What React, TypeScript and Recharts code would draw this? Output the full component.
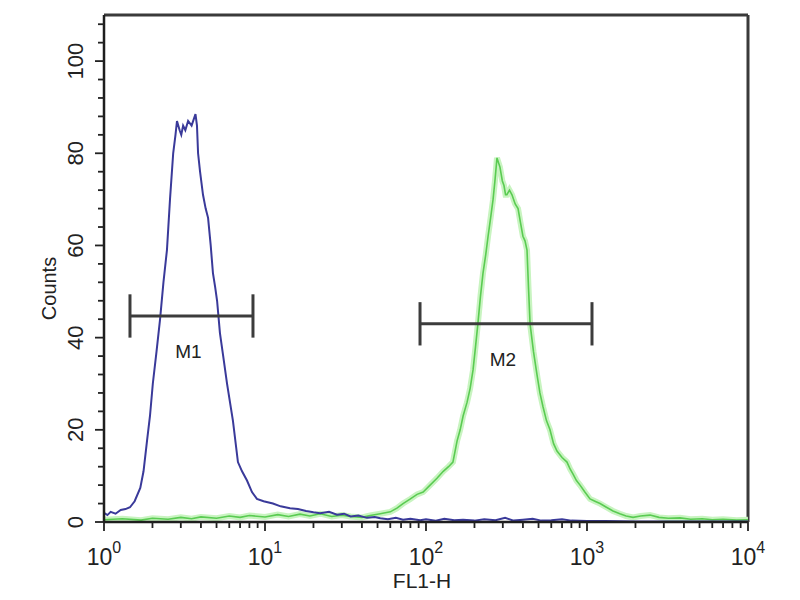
import {
  LineChart,
  Line,
  XAxis,
  YAxis,
  ReferenceLine,
} from "recharts";

// FL1-H channel values and counts
const blueFL = [
  1.0, 1.05, 1.1, 1.18, 1.27, 1.36, 1.45, 1.55, 1.68, 1.76, 1.85, 1.93, 2.01,
  2.12, 2.23, 2.34, 2.46, 2.57, 2.69, 2.78, 2.84, 2.95, 3.02, 3.1, 3.2, 3.33,
  3.5, 3.7, 3.78, 3.84, 3.95, 4.12, 4.28, 4.43, 4.6, 4.75, 4.9, 5.04, 5.25,
  5.5, 5.81, 6.32, 6.79, 7.2, 7.73, 8.3, 8.91, 9.8, 11.2, 12.5, 14.3, 16, 18,
  20, 22, 25, 28, 31, 34, 38, 43, 48, 52, 58, 65, 72, 80, 92, 100, 115, 130,
  150, 170, 200, 230, 270, 310, 350, 400, 460, 520, 600, 700, 800, 1000, 1300,
  2000, 3000, 5000, 10000,
];
const blueCounts = [
  2.0, 1.5, 2.2, 1.8, 2.6, 2.8, 3.2, 4.5, 7.4, 11, 17.6, 23, 30, 37, 44, 52, 59,
  70, 80, 84, 87, 85, 84, 86, 85, 87, 86, 88.5, 86, 80, 76, 71, 68, 66, 60, 54,
  51, 48, 41, 36, 30, 22, 13, 11, 9, 6.5, 5, 4.5, 4, 3.4, 3, 2.8, 2.4, 2.1, 1.9,
  2.2, 1.6, 1.8, 1.2, 1.4, 0.9, 1.1, 0.8, 0.6, 0.9, 0.5, 0.7, 0.4, 0.6, 0.3, 0.7,
  0.4, 0.5, 0.3, 0.6, 0.4, 0.9, 0.3, 0.5, 0.7, 0.3, 0.4, 0.6, 0.3, 0.2, 0.2, 0.1,
  0.1, 0.1, 0.1,
];

const greenFL = [
  1.0, 1.3, 1.7, 2.0, 2.5, 3.0, 3.5, 4.0, 5.0, 6.0, 7.0, 8.0, 10, 12, 14, 16.5,
  19, 22, 26, 30, 34, 40, 45, 52, 60, 66, 72, 80, 88, 96, 106, 117, 128, 138,
  147, 156, 163, 170, 180, 188, 196, 203, 210, 218, 226, 235, 243, 252, 261,
  268, 276, 288, 298, 305, 312, 318, 330, 342, 358, 373, 386, 400, 412, 424,
  433, 443, 465, 489, 510, 533, 560, 589, 620, 651, 700, 751, 785, 819, 860,
  905, 970, 1044, 1120, 1205, 1320, 1450, 1600, 1750, 1932, 2150, 2463, 2800,
  3200, 3782, 4400, 5200, 6000, 7000, 8500, 10000,
];
const greenCounts = [
  0.5, 0.7, 0.4, 0.8, 0.6, 1.0, 0.7, 1.1, 0.8, 1.3, 1.0, 1.4, 1.1, 1.6, 1.2, 1.7,
  1.3, 1.8, 1.2, 1.5, 1.2, 1.0, 1.4, 1.8, 2.2, 3.0, 4, 5, 6, 6.5, 8, 9.5, 11, 12,
  13, 17.6, 20, 23, 26, 29, 33, 38, 43, 49, 54, 58, 62, 66, 70, 74, 79, 77, 74,
  73, 71, 71, 72, 71, 69, 68, 65, 62, 61, 59, 51, 43, 37, 32, 28, 25, 22, 20, 17,
  15.4, 14, 13, 11.5, 10.4, 9, 8, 6.5, 5, 4.5, 4, 3.2, 2.4, 1.8, 1.3, 1.0, 1.3,
  1.5, 1.0, 0.8, 0.9, 0.6, 0.7, 0.5, 0.6, 0.4, 0.5,
];

// gate markers
const gateNames = ["M1", "M2"];
const gateLo = [1.45, 91.8];
const gateHi = [8.42, 1074];
const gateY = [44.7, 43];
const capHalf = 4.7;

const xTicks = [
  1, 2, 3, 4, 5, 6, 7, 8, 9, 10, 20, 30, 40, 50, 60, 70, 80, 90, 100, 200, 300,
  400, 500, 600, 700, 800, 900, 1000, 2000, 3000, 4000, 5000, 6000, 7000, 8000,
  9000, 10000,
];
const yTicks = [
  0, 4, 8, 12, 16, 20, 24, 28, 32, 36, 40, 44, 48, 52, 56, 60, 64, 68, 72, 76,
  80, 84, 88, 92, 96, 100, 104, 108,
];

const blueData = blueFL.map((x, i) => ({ x, y: blueCounts[i] }));
const greenData = greenFL.map((x, i) => ({ x, y: greenCounts[i] }));

const FONT = "'Liberation Sans', Arial, sans-serif";
const INK = "#222";

function XTick(props: any) {
  const { x, y, payload } = props;
  const e = Math.log10(payload.value);
  const major = Math.abs(e - Math.round(e)) < 1e-6;
  return (
    <g>
      <line x1={x} x2={x} y1={y} y2={y + (major ? 9 : 6)} stroke={INK} strokeWidth={1.8} />
      {major && (
        <text x={x} y={y + 43} textAnchor="middle" fontFamily={FONT} fontSize={23} fill={INK}>
          <tspan>10</tspan>
          <tspan dy={-12} fontSize={16}>
            {Math.round(e)}
          </tspan>
        </text>
      )}
    </g>
  );
}

function YTick(props: any) {
  const { x, y, payload } = props;
  const major = payload.value % 20 === 0;
  const tx = x - 21;
  return (
    <g>
      <line x1={x - (major ? 9 : 6)} x2={x} y1={y} y2={y} stroke={INK} strokeWidth={1.8} />
      {major && (
        <text
          x={tx}
          y={y}
          textAnchor="middle"
          transform={`rotate(-90, ${tx}, ${y})`}
          fontFamily={FONT}
          fontSize={22}
          fill={INK}
        >
          {payload.value}
        </text>
      )}
    </g>
  );
}

function GateLabel(props: any) {
  const { viewBox, value } = props;
  const cx = viewBox.x + viewBox.width / 2 - 3;
  return (
    <text x={cx} y={viewBox.y + 42} textAnchor="middle" fontFamily={FONT} fontSize={19} fill={INK}>
      {value}
    </text>
  );
}

export default function App() {
  return (
    <div style={{ position: "absolute", left: 0, top: 0, width: 800, height: 600, background: "#fff" }}>
      <LineChart width={800} height={600} margin={{ top: 15, right: 52, bottom: 0, left: 0 }}>
        <XAxis
          type="number"
          dataKey="x"
          scale="log"
          domain={[1, 10000]}
          ticks={xTicks}
          interval={0}
          allowDataOverflow
          height={78}
          tickSize={0}
          tickMargin={0}
          tickLine={false}
          tick={<XTick />}
          axisLine={{ stroke: "#1e1e1e", strokeWidth: 2.5 }}
          label={{
            content: (p: any) => (
              <text
                x={p.viewBox.x + 318}
                y={p.viewBox.y + 66}
                textAnchor="middle"
                fontFamily={FONT}
                fontSize={21}
                fill={INK}
              >
                FL1-H
              </text>
            ),
          }}
        />
        <YAxis
          type="number"
          dataKey="y"
          domain={[0, 110]}
          ticks={yTicks}
          interval={0}
          allowDataOverflow
          width={104}
          tickSize={0}
          tickMargin={0}
          tickLine={false}
          tick={<YTick />}
          axisLine={{ stroke: "#1e1e1e", strokeWidth: 2.5 }}
          label={{
            content: (p: any) => {
              const cx = p.viewBox.x + 56;
              const cy = p.viewBox.y + p.viewBox.height / 2 + 20;
              return (
                <text
                  x={cx}
                  y={cy}
                  textAnchor="middle"
                  transform={`rotate(-90, ${cx}, ${cy})`}
                  fontFamily={FONT}
                  fontSize={20}
                  fill={INK}
                >
                  Counts
                </text>
              );
            },
          }}
        />
        <ReferenceLine y={110} stroke="#3a3a3a" strokeWidth={3} />
        <ReferenceLine x={10000} stroke="#3a3a3a" strokeWidth={3} />
        <Line
          data={greenData}
          dataKey="y"
          type="linear"
          stroke="#c8f4c0"
          strokeWidth={6}
          dot={false}
          isAnimationActive={false}
        />
        <Line
          data={greenData}
          dataKey="y"
          type="linear"
          stroke="#5acb52"
          strokeWidth={1.6}
          dot={false}
          isAnimationActive={false}
        />
        <Line
          data={blueData}
          dataKey="y"
          type="linear"
          stroke="#3a3a9a"
          strokeWidth={2}
          dot={false}
          isAnimationActive={false}
        />
        {gateNames.map((name, i) => (
          <ReferenceLine
            key={name}
            segment={[
              { x: gateLo[i], y: gateY[i] },
              { x: gateHi[i], y: gateY[i] },
            ]}
            stroke="#3c3c3c"
            strokeWidth={3}
            label={<GateLabel value={name} />}
          />
        ))}
        {gateNames.map((name, i) => (
          <ReferenceLine
            key={name + "-lo"}
            segment={[
              { x: gateLo[i], y: gateY[i] - capHalf },
              { x: gateLo[i], y: gateY[i] + capHalf },
            ]}
            stroke="#3c3c3c"
            strokeWidth={3}
          />
        ))}
        {gateNames.map((name, i) => (
          <ReferenceLine
            key={name + "-hi"}
            segment={[
              { x: gateHi[i], y: gateY[i] - capHalf },
              { x: gateHi[i], y: gateY[i] + capHalf },
            ]}
            stroke="#3c3c3c"
            strokeWidth={3}
          />
        ))}
      </LineChart>
    </div>
  );
}
